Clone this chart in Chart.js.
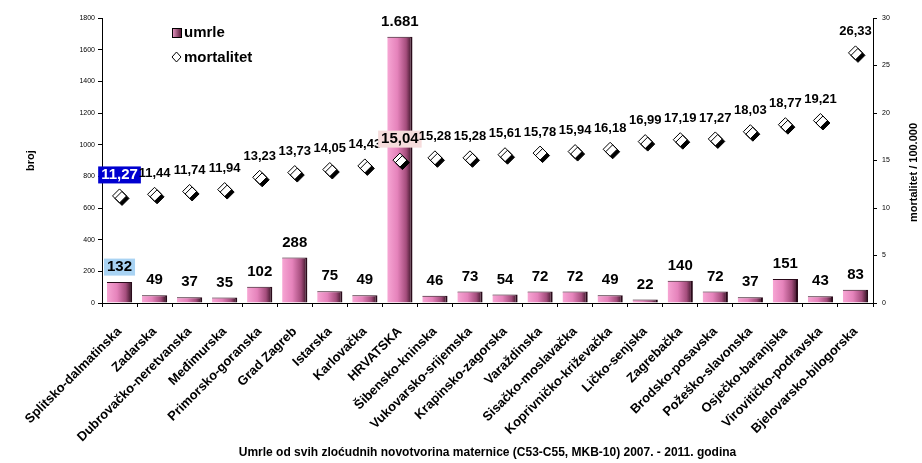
<!DOCTYPE html>
<html>
<head>
<meta charset="utf-8">
<script src="https://cdn.jsdelivr.net/npm/chart.js@4.4.1/dist/chart.umd.min.js"></script>
<style>
  body { margin: 0; background: #fff; }
  #wrap { width: 922px; height: 463px; }
</style>
</head>
<body>
<div id="wrap"><canvas id="chart" width="922" height="463"></canvas></div>
<script>
const categories = ['Splitsko-dalmatinska', 'Zadarska', 'Dubrovačko-neretvanska', 'Međimurska', 'Primorsko-goranska',
    'Grad Zagreb', 'Istarska', 'Karlovačka', 'HRVATSKA', 'Šibensko-kninska', 'Vukovarsko-srijemska',
    'Krapinsko-zagorska', 'Varaždinska', 'Sisačko-moslavačka', 'Koprivničko-križevačka', 'Ličko-senjska',
    'Zagrebačka', 'Brodsko-posavska', 'Požeško-slavonska', 'Osječko-baranjska', 'Virovitičko-podravska',
    'Bjelovarsko-bilogorska'];
const umrle = [132, 49, 37, 35, 102, 288, 75, 49, 1681, 46, 73, 54, 72, 72, 49, 22, 140, 72, 37, 151, 43, 83];
const mortalitet = [11.27, 11.44, 11.74, 11.94, 13.23, 13.73, 14.05, 14.43, 15.04, 15.28, 15.28, 15.61,
    15.78, 15.94, 16.18, 16.99, 17.19, 17.27, 18.03, 18.77, 19.21, 26.33];
const leftTicks = { min: 0, max: 1800, step: 200 };
const rightTicks = { min: 0, max: 30, step: 5 };
const chartTitle = 'Umrle od svih zloćudnih novotvorina maternice (C53-C55, MKB-10) 2007. - 2011. godina';

const FONT = "'Liberation Sans', Arial, sans-serif";
const BAR_PCT = 0.72;

// highlighted labels (dataset index, data index)
const highlights = {
    '0-0': { bg: '#a9d3f3', color: '#000' },
    '1-0': { bg: '#0000d0', color: '#fff' },
    '1-8': { bg: '#f6dcdc', color: '#000' }
};

const fmtCount = n => String(n).replace(/\B(?=(\d{3})+(?!\d))/g, '.');
const fmtRate = v => v.toFixed(2).replace('.', ',');

function barFill(c) {
    const chart = c.chart;
    const xs = chart.scales.x;
    if (!xs || c.dataIndex === undefined) return '#e07ab0';
    const cx = xs.getPixelForValue(c.dataIndex);
    const half = xs.width / categories.length * BAR_PCT / 2;
    if (!isFinite(cx) || !isFinite(half) || half <= 0) return '#e07ab0';
    const g = chart.ctx.createLinearGradient(cx - half, 0, cx + half, 0);
    g.addColorStop(0, '#f7a6d4');
    g.addColorStop(0.4, '#e583bb');
    g.addColorStop(0.75, '#a44d7c');
    g.addColorStop(1, '#2c0c1c');
    return g;
}

const pointShadow = {
    id: 'pointShadow',
    beforeDatasetDraw(chart, args) {
        if (args.index !== 1) return;
        const ctx = chart.ctx;
        ctx.save();
        ctx.shadowColor = '#000';
        ctx.shadowOffsetX = 2.5;
        ctx.shadowOffsetY = 2.5;
        ctx.shadowBlur = 0;
    },
    afterDatasetDraw(chart, args) {
        if (args.index !== 1) return;
        chart.ctx.restore();
    }
};

const valueLabels = {
    id: 'valueLabels',
    afterDatasetsDraw(chart) {
        const ctx = chart.ctx;
        ctx.save();
        ctx.textAlign = 'center';
        ctx.textBaseline = 'middle';
        chart.data.datasets.forEach((ds, di) => {
            const meta = chart.getDatasetMeta(di);
            meta.data.forEach((el, i) => {
                const hl = highlights[di + '-' + i];
                let text, y, size;
                if (di === 0) {
                    text = fmtCount(ds.data[i]);
                    y = el.y - 15;
                    size = 15;
                } else {
                    text = fmtRate(ds.data[i]);
                    y = el.y - 21;
                    size = hl ? 15 : 13;
                }
                ctx.font = 'bold ' + size + 'px ' + FONT;
                if (hl) {
                    const w = ctx.measureText(text).width;
                    ctx.fillStyle = hl.bg;
                    ctx.fillRect(el.x - w / 2 - 3, y - size / 2 - 1, w + 6, size + 2);
                }
                ctx.fillStyle = hl ? hl.color : '#000';
                ctx.fillText(text, el.x, y);
            });
        });
        ctx.restore();
    }
};

const customLegend = {
    id: 'customLegend',
    afterDraw(chart) {
        const ctx = chart.ctx;
        ctx.save();
        ctx.font = 'bold 15px ' + FONT;
        ctx.textBaseline = 'middle';
        // umrle
        const g = ctx.createLinearGradient(172, 0, 181, 0);
        g.addColorStop(0, '#f0a0cc');
        g.addColorStop(1, '#5a1c3a');
        ctx.fillStyle = g;
        ctx.fillRect(172, 28, 9, 9);
        ctx.strokeStyle = '#000';
        ctx.lineWidth = 1;
        ctx.strokeRect(172.5, 28.5, 9, 9);
        ctx.fillStyle = '#000';
        ctx.fillText(chart.data.datasets[0].label, 184, 33);
        // mortalitet
        ctx.beginPath();
        ctx.moveTo(176.5, 52);
        ctx.lineTo(181, 57);
        ctx.lineTo(176.5, 62);
        ctx.lineTo(172, 57);
        ctx.closePath();
        ctx.fillStyle = '#fff';
        ctx.fill();
        ctx.stroke();
        ctx.fillStyle = '#000';
        ctx.fillText(chart.data.datasets[1].label, 184, 58);
        // right axis title, reading bottom to top
        const y1 = chart.scales.y1;
        ctx.font = 'bold 11px ' + FONT;
        ctx.textAlign = 'center';
        ctx.translate(914, (y1.top + y1.bottom) / 2 + 12);
        ctx.rotate(-Math.PI / 2);
        ctx.fillText('mortalitet / 100.000', 0, 0);
        ctx.restore();
    }
};

new Chart(document.getElementById('chart').getContext('2d'), {
    data: {
        labels: categories,
        datasets: [{
            type: 'bar',
            label: 'umrle',
            data: umrle,
            yAxisID: 'y',
            backgroundColor: barFill,
            borderColor: '#2a0a1a',
            borderWidth: { top: 1, right: 2, left: 0, bottom: 0 },
            borderSkipped: 'bottom',
            categoryPercentage: 1,
            barPercentage: BAR_PCT,
            order: 1
        }, {
            type: 'line',
            label: 'mortalitet',
            data: mortalitet,
            yAxisID: 'y1',
            showLine: false,
            pointStyle: 'rectRot',
            pointRadius: 7,
            pointBackgroundColor: '#fff',
            pointBorderColor: '#000',
            pointBorderWidth: 1,
            order: 0
        }]
    },
    options: {
        responsive: false,
        animation: false,
        devicePixelRatio: 1,
        layout: { padding: { top: 18, left: 0, right: 0, bottom: 0 } },
        plugins: {
            legend: { display: false },
            tooltip: { enabled: false }
        },
        scales: {
            x: {
                offset: true,
                grid: { display: true, offset: true, drawOnChartArea: false, color: '#000', tickLength: 4 },
                border: { color: '#000', width: 1 },
                ticks: {
                    autoSkip: false, minRotation: 45, maxRotation: 45, color: '#000', padding: 17,
                    font: { family: FONT, size: 13, weight: 'bold' }
                },
                title: {
                    display: true, text: chartTitle, color: '#000',
                    font: { family: FONT, size: 12, weight: 'bold' },
                    padding: { top: 0, bottom: 3 }
                },
                afterFit: s => { s.height = 160; }
            },
            y: {
                position: 'left',
                min: leftTicks.min, max: leftTicks.max,
                grid: { drawOnChartArea: false, color: '#000', tickLength: 4 },
                border: { color: '#000', width: 1 },
                ticks: {
                    stepSize: leftTicks.step, color: '#000', padding: 3, font: { family: FONT, size: 7 },
                    callback: v => String(v)
                },
                title: {
                    display: true, text: 'broj', color: '#000',
                    font: { family: FONT, size: 11, weight: 'bold' },
                    padding: { top: 24, bottom: 0 }
                },
                afterFit: s => { s.width = 102; }
            },
            y1: {
                position: 'right',
                min: rightTicks.min, max: rightTicks.max,
                grid: { drawOnChartArea: false, color: '#000', tickLength: 4 },
                border: { color: '#000', width: 1 },
                ticks: {
                    stepSize: rightTicks.step, color: '#000', padding: 5, font: { family: FONT, size: 7 },
                    callback: v => String(v)
                },
                afterFit: s => { s.width = 49; }
            }
        }
    },
    plugins: [pointShadow, valueLabels, customLegend]
});
</script>
</body>
</html>
